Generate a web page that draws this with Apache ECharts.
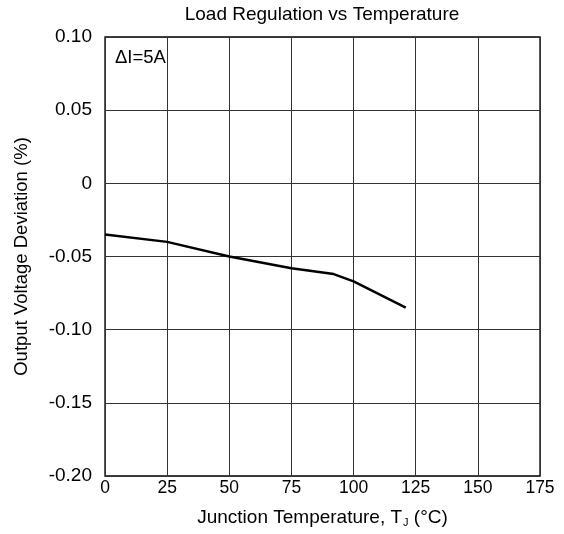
<!DOCTYPE html>
<html><head><meta charset="utf-8">
<script src="https://cdn.jsdelivr.net/npm/echarts@6/dist/echarts.min.js"></script>
<style>html,body{margin:0;padding:0;background:#fff}#c{width:564px;height:534px}</style>
</head><body><div id="c"></div>
<script>
var xTicks = [0, 25, 50, 75, 100, 125, 150, 175];
var yTicks = [-0.20, -0.15, -0.10, -0.05, 0, 0.05, 0.10];
var yTickLabels = ['-0.20', '-0.15', '-0.10', '-0.05', '0', '0.05', '0.10'];
var tempC = [0, 25, 50, 75, 92, 100, 121];
var deviationPct = [-0.035, -0.040, -0.050, -0.058, -0.062, -0.067, -0.085];

var font = 'Liberation Sans, Arial, sans-serif';
var chart = echarts.init(document.getElementById('c'));
chart.setOption({
  animation: false,
  backgroundColor: '#fff',
  title: {
    text: 'Load Regulation vs Temperature',
    left: 317, top: 0, textAlign: 'center',
    textStyle: {fontFamily: font, fontSize: 19, fontWeight: 'normal', color: '#000'}
  },
  grid: {left: 105, right: 24, top: 37, bottom: 58, show: true, borderColor: '#000', borderWidth: 1.3},
  xAxis: {
    type: 'value', min: 0, max: 175, interval: 25,
    name: '{a|Junction Temperature, T}{s|J}{a| (°C)}',
    nameLocation: 'middle', nameGap: 31,
    nameTextStyle: {rich: {
      a: {fontFamily: font, fontSize: 19, color: '#000'},
      s: {fontFamily: font, fontSize: 11, color: '#000', verticalAlign: 'bottom', padding: [10, 0, 0, 1]}
    }},
    axisLine: {show: false},
    axisTick: {show: false},
    axisLabel: {fontFamily: font, fontSize: 17.5, color: '#000', margin: 3,
      formatter: function (v) { return xTicks.indexOf(v) >= 0 ? String(v) : ''; }},
    splitLine: {show: true, lineStyle: {color: '#333', width: 1}}
  },
  yAxis: {
    type: 'value', min: -0.2, max: 0.1, interval: 0.05,
    name: 'Output Voltage Deviation (%)',
    nameLocation: 'middle', nameGap: 74, nameRotate: 90,
    nameTextStyle: {fontFamily: font, fontSize: 18.5, color: '#000'},
    axisLine: {show: false},
    axisTick: {show: false},
    axisLabel: {fontFamily: font, fontSize: 19, color: '#000', margin: 13,
      formatter: function (v) {
        for (var i = 0; i < yTicks.length; i++) if (Math.abs(yTicks[i] - v) < 1e-9) return yTickLabels[i];
        return '';
      }},
    splitLine: {show: true, lineStyle: {color: '#333', width: 1}}
  },
  graphic: [{
    type: 'text', left: 115, top: 48,
    style: {text: 'ΔI=5A', font: '18.5px ' + font, fill: '#000'}
  }],
  series: [{
    type: 'line',
    data: tempC.map(function (t, i) { return [t, deviationPct[i]]; }),
    showSymbol: false,
    lineStyle: {color: '#000', width: 2.5}
  }]
});
</script></body></html>
